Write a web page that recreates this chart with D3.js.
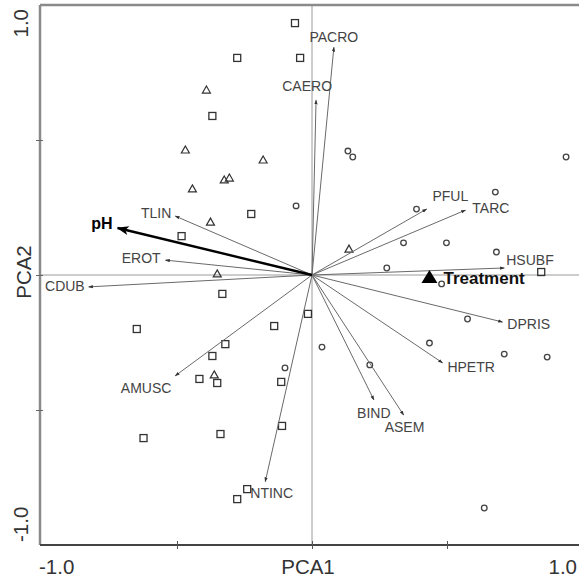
<!DOCTYPE html>
<html>
<head>
<meta charset="utf-8">
<script src="https://cdn.jsdelivr.net/npm/d3@7"></script>
<style>
html,body{margin:0;padding:0;background:#fff;}
svg{display:block;}
text{font-family:"Liberation Sans",Arial,sans-serif;}
</style>
</head>
<body>
<script>
// ---- data (PCA biplot scores) ----
const speciesNames = ["PACRO","CAERO","PFUL","TARC","HSUBF","TLIN","EROT","CDUB","AMUSC","NTINC","BIND","ASEM","HPETR","DPRIS"];
const speciesX = [0.081, 0.015, 0.424, 0.568, 0.712, -0.506, -0.542, -0.827, -0.506, -0.173, 0.229, 0.339, 0.483, 0.705];
const speciesY = [0.843, 0.647, 0.244, 0.240, 0.026, 0.218, 0.055, -0.044, -0.373, -0.765, -0.462, -0.518, -0.325, -0.174];

const envName = "pH";
const envXY = [-0.72, 0.174];
const factorName = "Treatment";
const factorXY = [0.435, -0.011];

const squareX = [-0.277,-0.369,-0.063,-0.044,-0.225,-0.483,0.849,-0.332,-0.649,-0.140,-0.015,-0.321,-0.369,-0.417,-0.351,-0.114,-0.111,-0.624,-0.339,-0.240,-0.277];
const squareY = [0.804,0.589,0.933,0.804,0.226,0.144,0.011,-0.070,-0.200,-0.189,-0.144,-0.256,-0.300,-0.385,-0.400,-0.396,-0.559,-0.604,-0.589,-0.793,-0.830];

const triangleX = [-0.391,-0.469,-0.181,-0.325,-0.306,-0.443,-0.376,-0.351,0.137,-0.362];
const triangleY = [0.685,0.463,0.426,0.352,0.359,0.319,0.196,0.004,0.096,-0.370];

const circleX = [-0.059,0.133,0.151,0.941,0.679,0.387,0.339,0.498,0.683,0.277,0.480,0.037,-0.100,0.214,0.435,0.576,0.712,0.871,0.638];
const circleY = [0.256,0.459,0.437,0.437,0.307,0.244,0.119,0.119,0.085,0.026,-0.033,-0.267,-0.344,-0.333,-0.252,-0.163,-0.293,-0.304,-0.863];

const xTickLabels = ["-1.0","1.0"];
const yTickLabels = ["-1.0","1.0"];
const xTitle = "PCA1", yTitle = "PCA2";

// ---- label placement (layout only) ----
const labelPlace = {
  PACRO:{dx:0,dy:-5,a:"middle"}, CAERO:{dx:16,dy:-9,a:"end"},
  PFUL:{dx:6,dy:-8,a:"start"}, TARC:{dx:7,dy:3,a:"start"},
  HSUBF:{dx:2,dy:-3,a:"start"}, TLIN:{dx:-4,dy:2,a:"end"},
  EROT:{dx:-5,dy:3,a:"end"}, CDUB:{dx:-4,dy:4,a:"end"},
  AMUSC:{dx:-4,dy:17,a:"end"}, NTINC:{dx:-15,dy:16,a:"start"},
  BIND:{dx:0,dy:18,a:"middle"}, ASEM:{dx:1,dy:17,a:"middle"},
  HPETR:{dx:5,dy:9,a:"start"}, DPRIS:{dx:5,dy:7,a:"start"}
};

const W = 579, H = 579;
const svg = d3.select("body").append("svg").attr("width", W).attr("height", H);

const x = d3.scaleLinear().domain([-1, 1]).range([42, 582]);
const y = d3.scaleLinear().domain([-1, 1]).range([545, 5]);

const defs = svg.append("defs");
defs.append("marker").attr("id","ah").attr("markerUnits","userSpaceOnUse")
  .attr("viewBox","0 -3 6 6").attr("refX",5).attr("refY",0)
  .attr("markerWidth",5).attr("markerHeight",5).attr("orient","auto")
  .append("path").attr("d","M0,-2L6,0L0,2Z").attr("fill","#333");
defs.append("marker").attr("id","ahBig").attr("markerUnits","userSpaceOnUse")
  .attr("viewBox","0 -5 12 10").attr("refX",11).attr("refY",0)
  .attr("markerWidth",13).attr("markerHeight",10).attr("orient","auto")
  .append("path").attr("d","M0,-4.5L12,0L0,4.5L3,0Z").attr("fill","#000");

// crosshair lines through origin
svg.append("line").attr("x1", x(0)).attr("x2", x(0)).attr("y1", y(1)).attr("y2", y(-1))
  .attr("stroke", "#9a9a9a").attr("stroke-width", 1);
svg.append("line").attr("x1", 40).attr("x2", W).attr("y1", y(0)).attr("y2", y(0))
  .attr("stroke", "#9a9a9a").attr("stroke-width", 1);

// frame
svg.append("line").attr("x1", 40).attr("x2", W).attr("y1", y(1)).attr("y2", y(1))
  .attr("stroke", "#8a8a8a").attr("stroke-width", 2.5);
svg.append("line").attr("x1", 40).attr("x2", 40).attr("y1", y(1)).attr("y2", y(-1))
  .attr("stroke", "#8a8a8a").attr("stroke-width", 2.5);

// axes via d3 (bottom & left) with ticks
const xAxis = d3.axisBottom(x).tickValues([-0.5, 0, 0.5]).tickSize(7).tickFormat("");
const gx = svg.append("g").attr("transform", `translate(0,${y(-1)})`).call(xAxis);
gx.select(".domain").attr("d", `M40,0H${W}`).attr("stroke", "#444").attr("stroke-width", 2);
gx.selectAll(".tick line").attr("y1", -4).attr("y2", 4).attr("stroke", "#555");

const yAxis = d3.axisLeft(y).tickValues([-0.5, 0, 0.5]).tickSize(4).tickFormat("");
const gy = svg.append("g").attr("transform", `translate(40,0)`).call(yAxis);
gy.select(".domain").remove();
gy.selectAll(".tick line").attr("x1", -4).attr("x2", 3).attr("stroke", "#666");

// tick labels
const axFont = 20.5, axBase = 574;
svg.append("text").attr("x", x(-1) - 3).attr("y", axBase).attr("text-anchor", "start")
  .attr("font-size", axFont).attr("fill", "#333").text(xTickLabels[0]);
svg.append("text").attr("x", W - 2).attr("y", axBase).attr("text-anchor", "end")
  .attr("font-size", axFont).attr("fill", "#333").text(xTickLabels[1]);
svg.append("text").attr("transform", `translate(28,${y(-1) - 3}) rotate(-90)`).attr("text-anchor", "start")
  .attr("font-size", axFont).attr("fill", "#333").text(yTickLabels[0]);
svg.append("text").attr("transform", `translate(28,${y(1) + 4}) rotate(-90)`).attr("text-anchor", "end")
  .attr("font-size", axFont).attr("fill", "#333").text(yTickLabels[1]);

// titles
svg.append("text").attr("x", x(0) - 4).attr("y", axBase).attr("text-anchor", "middle")
  .attr("font-size", axFont).attr("fill", "#333").text(xTitle);
svg.append("text").attr("transform", `translate(31,${y(0) - 3}) rotate(-90)`).attr("text-anchor", "middle")
  .attr("font-size", axFont).attr("fill", "#333").text(yTitle);

// sample symbols
const sq = squareX.map((v, i) => [v, squareY[i]]);
const tr = triangleX.map((v, i) => [v, triangleY[i]]);
const ci = circleX.map((v, i) => [v, circleY[i]]);

svg.append("g").selectAll("rect").data(sq).join("rect")
  .attr("x", d => x(d[0]) - 3.5).attr("y", d => y(d[1]) - 3.5)
  .attr("width", 7).attr("height", 7)
  .attr("fill", "none").attr("stroke", "#333").attr("stroke-width", 1.3);

svg.append("g").selectAll("path").data(tr).join("path")
  .attr("d", d => { const cx = x(d[0]), cy = y(d[1]); return `M${cx},${cy-4}L${cx+4},${cy+3}L${cx-4},${cy+3}Z`; })
  .attr("fill", "none").attr("stroke", "#333").attr("stroke-width", 1.2);

svg.append("g").selectAll("circle").data(ci).join("circle")
  .attr("cx", d => x(d[0])).attr("cy", d => y(d[1])).attr("r", 2.8)
  .attr("fill", "none").attr("stroke", "#444").attr("stroke-width", 1.3);

// species arrows
const sp = speciesNames.map((n, i) => ({ name: n, vx: speciesX[i], vy: speciesY[i] }));
svg.append("g").selectAll("line").data(sp).join("line")
  .attr("x1", x(0)).attr("y1", y(0))
  .attr("x2", d => x(d.vx)).attr("y2", d => y(d.vy))
  .attr("stroke", "#6a6a6a").attr("stroke-width", 1)
  .attr("marker-end", "url(#ah)");

svg.append("g").selectAll("text").data(sp).join("text")
  .attr("x", d => x(d.vx) + labelPlace[d.name].dx)
  .attr("y", d => y(d.vy) + labelPlace[d.name].dy)
  .attr("text-anchor", d => labelPlace[d.name].a)
  .attr("font-size", 14).attr("fill", "#444")
  .text(d => d.name);

// environmental arrow pH
svg.append("line").attr("x1", x(0)).attr("y1", y(0))
  .attr("x2", x(envXY[0])).attr("y2", y(envXY[1]))
  .attr("stroke", "#000").attr("stroke-width", 2.4)
  .attr("marker-end", "url(#ahBig)");
svg.append("text").attr("x", x(envXY[0]) - 5).attr("y", y(envXY[1]) + 1)
  .attr("text-anchor", "end").attr("font-size", 16).attr("font-weight", "bold")
  .attr("fill", "#000").text(envName);

// nominal factor Treatment
const tx = x(factorXY[0]), ty = y(factorXY[1]);
svg.append("path").attr("d", `M${tx},${ty-8}L${tx+8},${ty+5}L${tx-8},${ty+5}Z`).attr("fill", "#000");
svg.append("text").attr("x", tx + 14).attr("y", ty + 6)
  .attr("font-size", 17).attr("font-weight", "bold").attr("fill", "#111").text(factorName);
</script>
</body>
</html>
